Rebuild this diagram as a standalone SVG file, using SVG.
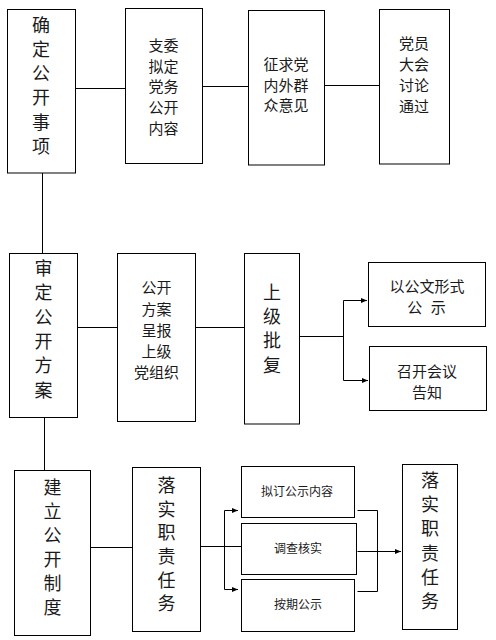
<svg xmlns="http://www.w3.org/2000/svg" width="496" height="640" viewBox="0 0 496 640">
<style>
rect{fill:#fff;stroke:#000;stroke-width:1}
text{font-family:"Noto Sans CJK SC","Noto Sans",sans-serif;fill:#1a1a1a;text-anchor:middle}
.l{font-size:18px}
.m{font-size:15px}
.s{font-size:12px}
.c path{fill:none;stroke:#000;stroke-width:1}
</style>
<defs>
<marker id="ah" markerUnits="userSpaceOnUse" markerWidth="7" markerHeight="6" refX="6" refY="2.5" orient="auto">
<path d="M0,0 L6,2.5 L0,5 z" fill="#000"/>
</marker>
</defs>
<rect x="0" y="0" width="496" height="640" style="stroke:none"/>
<g class="c" id="connectors">
<path d="M75.5 88.5 H125.5"/>
<path d="M202.5 86.5 H248.5"/>
<path d="M324.5 85.5 H379.5"/>
<path d="M42.5 173 V253.5"/>
<path d="M44.5 417.5 V472"/>
<path d="M77.5 327.5 H117.5"/>
<path d="M195.5 327.5 H244.5"/>
<path d="M299.5 336.5 H343.5"/>
<path d="M343.5 300.5 V380.5"/>
<path d="M343.5 300.5 H367" marker-end="url(#ah)"/>
<path d="M343.5 380.5 H368" marker-end="url(#ah)"/>
<path d="M90.5 547.5 H132.5"/>
<path d="M200.5 546.5 H241.5"/>
<path d="M224.5 510.5 V589.5"/>
<path d="M224.5 510.5 H238" marker-end="url(#ah)"/>
<path d="M224.5 589.5 H238" marker-end="url(#ah)"/>
<path d="M357.5 510.5 H377.5 V591.5 H357.5"/>
<path d="M357.5 551.5 H401" marker-end="url(#ah)"/>
</g>
<g id="n1">
<rect x="7.5" y="9.5" width="68" height="163.5"/>
<text class="l" x="41"><tspan x="41" y="31.8">确</tspan><tspan x="41" y="56">定</tspan><tspan x="41" y="80.2">公</tspan><tspan x="41" y="104.4">开</tspan><tspan x="41" y="128.6">事</tspan><tspan x="41" y="152.8">项</tspan></text>
</g>
<g id="n2">
<rect x="125.5" y="8.5" width="77" height="155"/>
<text class="m"><tspan x="163.5" y="50.7">支委</tspan><tspan x="163.5" y="71.5">拟定</tspan><tspan x="163.5" y="92.2">党务</tspan><tspan x="163.5" y="113">公开</tspan><tspan x="163.5" y="133.7">内容</tspan></text>
</g>
<g id="n3">
<rect x="248.5" y="10.5" width="76" height="154.5"/>
<text class="m"><tspan x="286" y="69.7">征求党</tspan><tspan x="286" y="90.5">内外群</tspan><tspan x="286" y="111.2">众意见</tspan></text>
</g>
<g id="n4">
<rect x="379.5" y="9.5" width="70" height="154.5"/>
<text class="m"><tspan x="414" y="49">党员</tspan><tspan x="414" y="70">大会</tspan><tspan x="414" y="91">讨论</tspan><tspan x="414" y="112">通过</tspan></text>
</g>
<g id="n5">
<rect x="9.5" y="253.5" width="68" height="164"/>
<text class="l"><tspan x="43.5" y="274.8">审</tspan><tspan x="43.5" y="299.2">定</tspan><tspan x="43.5" y="323.6">公</tspan><tspan x="43.5" y="348">开</tspan><tspan x="43.5" y="372.4">方</tspan><tspan x="43.5" y="396.8">案</tspan></text>
</g>
<g id="n6">
<rect x="117.5" y="253.5" width="78" height="168"/>
<text class="m"><tspan x="156.5" y="293.4">公开</tspan><tspan x="156.5" y="314.7">方案</tspan><tspan x="156.5" y="335.9">呈报</tspan><tspan x="156.5" y="357.2">上级</tspan><tspan x="156.5" y="378.4">党组织</tspan></text>
</g>
<g id="n7">
<rect x="244.5" y="253.5" width="55" height="170.5"/>
<text class="l"><tspan x="272" y="298.5">上</tspan><tspan x="272" y="322.9">级</tspan><tspan x="272" y="347.3">批</tspan><tspan x="272" y="371.7">复</tspan></text>
</g>
<g id="n8">
<rect x="368.5" y="262.5" width="117" height="64"/>
<text class="m"><tspan x="427" y="292.2">以公文形式</tspan><tspan x="426.5" y="313.2" style="word-spacing:5px">公 示</tspan></text>
</g>
<g id="n9">
<rect x="369.5" y="346.5" width="117" height="64"/>
<text class="m"><tspan x="427" y="377.2">召开会议</tspan><tspan x="427" y="398">告知</tspan></text>
</g>
<g id="n10">
<rect x="14.5" y="470.5" width="76" height="165"/>
<text class="l"><tspan x="52.5" y="493.5">建</tspan><tspan x="52.5" y="517.5">立</tspan><tspan x="52.5" y="541.5">公</tspan><tspan x="52.5" y="565.5">开</tspan><tspan x="52.5" y="589.5">制</tspan><tspan x="52.5" y="613.5">度</tspan></text>
</g>
<g id="n11">
<rect x="132.5" y="467.5" width="68" height="164"/>
<text class="l"><tspan x="166.5" y="491.8">落</tspan><tspan x="166.5" y="515.5">实</tspan><tspan x="166.5" y="539.2">职</tspan><tspan x="166.5" y="562.9">责</tspan><tspan x="166.5" y="586.6">任</tspan><tspan x="166.5" y="610.3">务</tspan></text>
</g>
<g id="n12">
<rect x="241.5" y="466.5" width="113" height="51"/>
<text class="s" x="297" y="496.3">拟订公示内容</text>
</g>
<g id="n13">
<rect x="241.5" y="523.5" width="115" height="51"/>
<text class="s" x="298" y="553">调查核实</text>
</g>
<g id="n14">
<rect x="241.5" y="579.5" width="113" height="52"/>
<text class="s" x="298" y="608.6">按期公示</text>
</g>
<g id="n15">
<rect x="402.5" y="464.5" width="55" height="165"/>
<text class="l"><tspan x="430" y="486.8">落</tspan><tspan x="430" y="511.1">实</tspan><tspan x="430" y="535.4">职</tspan><tspan x="430" y="559.7">责</tspan><tspan x="430" y="584">任</tspan><tspan x="430" y="608.3">务</tspan></text>
</g>
</svg>
